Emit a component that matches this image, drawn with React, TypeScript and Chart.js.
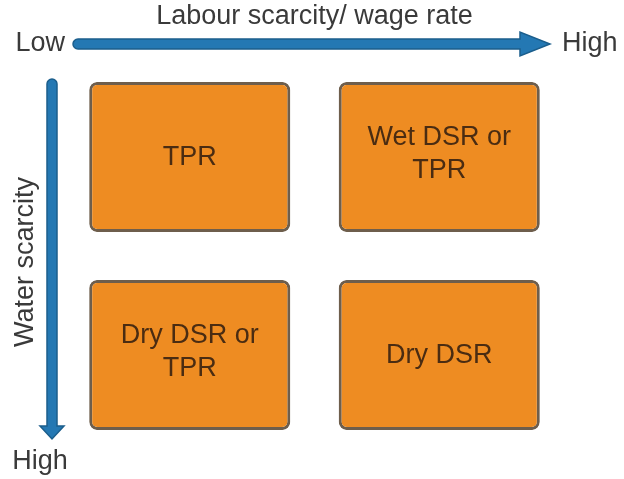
import { useEffect, useRef } from "react";
import { Chart, registerables } from "chart.js";

Chart.register(...registerables);

// ---- data ----
const labourLevels = ["Low", "High"]; // x: labour scarcity / wage rate
const waterLevels = ["Low", "High"]; // y: water scarcity
const xAxisTitle = "Labour scarcity/ wage rate";
const yAxisTitle = "Water scarcity";
// recommended establishment method per cell, one list per water level
const cellsLowWater = [["TPR"], ["Wet DSR or", "TPR"]];
const cellsHighWater = [["Dry DSR or", "TPR"], ["Dry DSR"]];

// ---- styles ----
const BOX_FILL = "#EE8C22";
const BOX_BORDER = "#6E5E4C";
const BOX_TEXT = "#4A2C12";
const ARROW_FILL = "#2478B3";
const ARROW_EDGE = "#1B5E8C";
const LABEL_COLOR = "#3A3A3A";
const FONT = "'Liberation Sans', Arial, sans-serif";
const ROW_GAP = 0.121;

const cellRows = [cellsLowWater, cellsHighWater];

function drawHArrow(ctx: CanvasRenderingContext2D, x0: number, x1: number, y: number) {
  const half = 5;
  const headLen = 30;
  const headHalf = 12;
  const xb = x1 - headLen;
  ctx.beginPath();
  ctx.moveTo(x0, y - half);
  ctx.lineTo(xb, y - half);
  ctx.lineTo(xb, y - headHalf);
  ctx.lineTo(x1, y);
  ctx.lineTo(xb, y + headHalf);
  ctx.lineTo(xb, y + half);
  ctx.lineTo(x0, y + half);
  ctx.arc(x0, y, half, Math.PI / 2, (3 * Math.PI) / 2);
  ctx.closePath();
  ctx.fillStyle = ARROW_FILL;
  ctx.fill();
  ctx.lineWidth = 1.5;
  ctx.strokeStyle = ARROW_EDGE;
  ctx.stroke();
}

function drawVArrow(ctx: CanvasRenderingContext2D, x: number, y0: number, y1: number) {
  const half = 5;
  const headLen = 13;
  const headHalf = 12;
  const yb = y1 - headLen;
  ctx.beginPath();
  ctx.moveTo(x + half, y0);
  ctx.lineTo(x + half, yb);
  ctx.lineTo(x + headHalf, yb);
  ctx.lineTo(x, y1);
  ctx.lineTo(x - headHalf, yb);
  ctx.lineTo(x - half, yb);
  ctx.lineTo(x - half, y0);
  ctx.arc(x, y0, half, Math.PI, 0);
  ctx.closePath();
  ctx.fillStyle = ARROW_FILL;
  ctx.fill();
  ctx.lineWidth = 1.5;
  ctx.strokeStyle = ARROW_EDGE;
  ctx.stroke();
}

const decorPlugin = {
  id: "decor",
  afterDatasetsDraw(chart: any) {
    const { ctx, chartArea: ca } = chart;
    ctx.save();
    // cell texts
    ctx.fillStyle = BOX_TEXT;
    ctx.font = `27px ${FONT}`;
    ctx.textAlign = "center";
    ctx.textBaseline = "middle";
    chart.data.datasets.forEach((ds: any, i: number) => {
      const meta = chart.getDatasetMeta(i);
      meta.data.forEach((el: any, j: number) => {
        const lines: string[] = ds.cellLabels[j];
        const c = el.getCenterPoint();
        const lh = 33;
        const shift = lines.length > 1 ? -3 : 1;
        const startY = c.y + shift - ((lines.length - 1) * lh) / 2;
        lines.forEach((t, k) => ctx.fillText(t, c.x, startY + k * lh));
      });
    });

    // arrows
    const hy = ca.top - 14;
    drawHArrow(ctx, ca.left + 13, ca.right - 14, hy);
    const vx = ca.left - 13;
    drawVArrow(ctx, vx, ca.top + 26, ca.bottom - 15);

    // labels
    ctx.fillStyle = LABEL_COLOR;
    ctx.font = `27px ${FONT}`;
    ctx.textBaseline = "middle";
    ctx.textAlign = "center";
    ctx.fillText(xAxisTitle, (ca.left + ca.right) / 2, ca.top - 41);
    ctx.textAlign = "right";
    ctx.fillText(labourLevels[0], ca.left, hy);
    ctx.textAlign = "left";
    ctx.fillText(labourLevels[1], ca.right - 2, hy);
    ctx.textAlign = "center";
    ctx.fillText(waterLevels[1], vx - 12, ca.bottom + 8);
    ctx.save();
    ctx.translate(vx - 26, (ca.top + ca.bottom) / 2 + 6);
    ctx.rotate(-Math.PI / 2);
    ctx.fillText(yAxisTitle, 0, 0);
    ctx.restore();
    ctx.restore();
  },
};

export default function App() {
  const ref = useRef<HTMLCanvasElement | null>(null);
  useEffect(() => {
    if (!ref.current) return;
    const chart = new Chart(ref.current, {
      type: "bar",
      data: {
        labels: labourLevels,
        datasets: waterLevels.map((w, r) => ({
          label: `${w} water scarcity`,
          data: labourLevels.map(() => [r + ROW_GAP, r + 1 - ROW_GAP]),
          cellLabels: cellRows[r],
          backgroundColor: BOX_FILL,
          borderColor: BOX_BORDER,
          borderWidth: 3,
          borderRadius: 8,
          borderSkipped: false,
          grouped: false,
          barPercentage: 0.806,
          categoryPercentage: 1,
        })) as any,
      },
      options: {
        responsive: false,
        animation: false,
        layout: { padding: { left: 65, right: 60, top: 58, bottom: 25 } },
        plugins: { legend: { display: false }, tooltip: { enabled: false }, title: { display: false } },
        scales: {
          x: { display: false },
          y: { display: false, min: 0, max: 2, reverse: true },
        },
      },
      plugins: [decorPlugin],
    });
    return () => chart.destroy();
  }, []);
  return (
    <div style={{ position: "absolute", left: 0, top: 0, width: 624, height: 479, background: "#fff" }}>
      <canvas ref={ref} width={624} height={479} style={{ display: "block" }} />
    </div>
  );
}
